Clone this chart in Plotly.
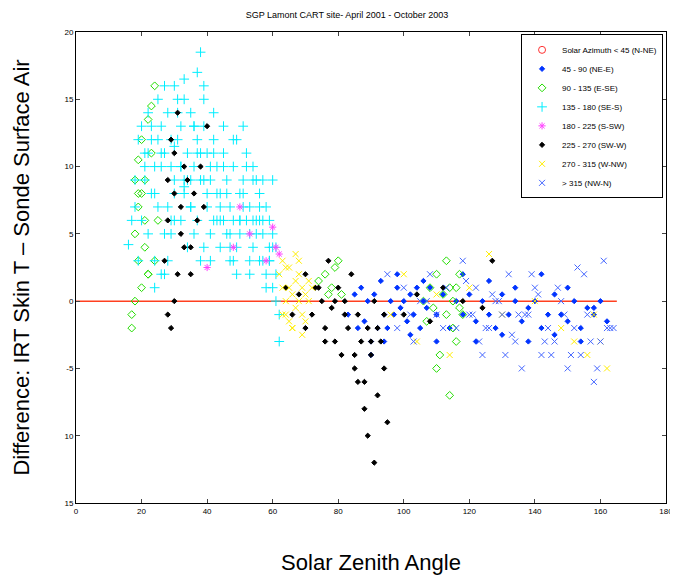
import plotly.graph_objects as go

# (x = solar zenith angle, y = difference)
cyan_x = [16,17,18,19,20,21,22,23,24,25,26,27,28,29,30,31,32,33,34,35,36,37,38,39,40,41,42,43,44,45,46,47,48,49,50,51,52,53,54,55,56,57,58,59,60,61,62,
          20,22,24,26,28,30,32,34,36,38,40,42,44,46,48,50,52,54,56,58,60,
          21,23,25,27,29,31,33,35,37,39,41,43,45,47,49,51,53,55,57,59,61,
          19,22,25,28,31,34,37,40,43,46,49,52,55,58,61,
          24,27,30,33,36,39,42,45,48,51,54,57,60,
          26,29,32,35,38,41,44,47,50,53,56,59,62,37,39,30,33,
          23,26,29,32,35,38,41,44,47,50,53,56,59,
          18,21,24,27,30,33,36,39,42,45,48,51,54,57,60]
cyan_y = [4.2,6,9,12,13,11,14,12,8,15,10,16,14,12,9,15,13,16.5,11,14,10,12,18.5,13,11,9,12,10,8,11,9,7,10,12,8,9,11,7,6,9,8,5,7,6,5,4,-3,
          6,5,3,2,7,8,6,4,5,3,7,6,4,8,3,5,6,4,3,2,1,
          10,8,12,5,10,12,9,7,6,4,5,8,6,3,4,7,2,5,3,4,2,
          3,11,7,3,14,9,11,8,6,5,2,10,6,1,0,
          1,2,16,15,13,15,14,13,12,13,10,9,9,
          13,6,10,9,11,3,6,4,6,3,7,3,-1,17,16,11.5,8.5,
          13,11,5,10,7,9,10,7,5,6,5,6,3,
          7,9,10,11,6,8,13,9,11,10,6,8,9,6,4]
green_x = [17,17,18,18,18,19,19,19,20,20,20,21,21,21,22,22,23,23,24,24,25,19,22,
           74,76,77,78,79,80,81,
           106,107,108,109,110,111,112,113,113,114,115,115,116,116,117,117,110,114,118]
green_y = [-2,-1,0,5,9,10.5,3,7,12,8,1,6,4,9,2,13.5,14.5,11,3,16,6,8,2,
           1.5,2,0.5,1,2.5,3,0.5,
           0,-1.5,1,-0.5,2,-4,0.5,-1,3,1,-2,0,-3,1,-0.5,2,-5,-7,-1]
black_x = [27,28,28,29,29,30,30,31,31,32,32,33,34,35,36,37,38,39,40,28,30,33,35,
           64,66,68,70,72,74,75,76,77,78,79,80,81,82,83,84,85,86,87,88,89,90,91,92,93,94,95,
           70,73,76,79,82,85,88,91,94,86,89,92,90,
           100,104,108,112,118,124,127]
black_y = [3,6,9,-2,12,8,11,2,14,7,5,10,9,4,8,6,10,7,13,-1,0,4,2,
           1,-1,0.5,2,-1,1,0,-2,3,-0.5,-3,1,-4,0,-2,2,-5,-1,-3,-6,-2,-4,0,-7,-3,-1,-9,
           -2,1,-3,0,-1,-4,-8,-12,-5,-6,-10,-2,-3,
           -1,0.5,-1.5,1,0,-0.5,3]
blue_x = [83,85,86,87,88,89,90,91,92,93,94,95,96,97,98,99,100,101,102,103,104,105,106,107,108,110,112,114,116,118,120,122,124,126,128,130,132,134,136,138,140,142,144,146,148,150,152,154,156,158,160,162,
          90,94,98,102,106,110,118,122,126,130,134,138,142,146,150,154,158]
blue_y = [-1,0.5,-2,1,-1.5,0,-3,0.5,-2,1.5,-1,-2,0,-1,1,-0.5,0,-1.5,0.5,-1,1,-2,0,-0.5,1,-1,0.5,-2,0,-1,0.5,-1.5,0,-1,-2,0.5,-1,0,-1.5,-0.5,0,-2,-1,0.5,-1,-1.5,0,-2,-0.5,-1,0,-1.5,
          -4,-3,2,-2.5,1.5,-3,2,-3,1.5,-2.5,1,-3,2,-2.5,1,-3,-0.5]
yellow_x = [62,63,63,64,64,65,65,66,66,67,67,68,68,69,69,70,70,71,72,63,65,67,69,71,64,66,68,
            96,100,104,110,114,120,126,130,140,148,152,156,158,160,162]
yellow_y = [2,-1,1,0,2.5,-1.5,1,0.5,-2,1.5,-0.5,0,2,-1,1,0.5,-1.5,0,1,3,2.5,3.5,-2.5,1.5,-1,-2,3,
            -1,2,-3,0.5,-4,1,3.5,-1,0,-2,-3,-4,-1,-3,-5]
bluex_x = [95,98,100,103,105,108,110,113,116,118,120,122,124,126,128,130,132,134,136,138,140,142,144,146,148,150,152,154,156,158,160,162,164,
           102,107,112,119,123,127,131,135,139,143,147,151,155,159,161,
           121,125,129,133,137,141,145,149,153,157,163]
bluex_y = [2,-2,1,-3,0,2,-1,1,-2,3,-1,1,-4,-2,0,-1,2,-3,-5,-1,1,-4,-2,-3,0,-5,-2,-4,-1,-6,-3,-2,-2,
           -1,0,-2,1.5,-3,0.5,-4,-1,2,-3,1,-4,2,-5,3,
           -1,-2,0,-2.5,-1,0.5,-4,-1,2.5,-3,-2]
mag_x = [40,48,50,53,58,60,61,62]
mag_y = [2.5,4,7,5,3,5.5,4,3.5]

fig = go.Figure()
fig.add_trace(go.Scatter(x=[0, 165], y=[0, 0], mode="lines", line=dict(color="#ff4020", width=1.5), showlegend=False))
series = [
    ("Solar Azimuth < 45 (N-NE)", [], [], "circle-open", "#ff3030", 7),
    ("45 - 90 (NE-E)", blue_x, blue_y, "diamond", "#0033ff", 4),
    ("90 - 135 (E-SE)", green_x, green_y, "diamond-open", "#22dd00", 6),
    ("135 - 180 (SE-S)", cyan_x, cyan_y, "cross-thin-open", "#00eeff", 7),
    ("180 - 225 (S-SW)", mag_x, mag_y, "asterisk-open", "#ff44ff", 6),
    ("225 - 270 (SW-W)", black_x, black_y, "diamond", "#000000", 4),
    ("270 - 315 (W-NW)", yellow_x, yellow_y, "x-thin-open", "#ffee00", 6),
    ("> 315 (NW-N)", bluex_x, bluex_y, "x-thin-open", "#4466ff", 6),
]
for name, xs, ys, sym, col, sz in series:
    fig.add_trace(go.Scatter(x=xs if xs else [None], y=ys if ys else [None], mode="markers", name=name,
                             marker=dict(symbol=sym, color=col, size=sz, line=dict(color=col, width=1))))

fig.update_layout(
    width=678, height=577, paper_bgcolor="white", plot_bgcolor="white",
    margin=dict(l=68, r=20, t=24, b=82, autoexpand=False),
    title=dict(text="SGP Lamont CART site- April 2001 - October 2003", x=0.5, xanchor="center", y=0.993,
               font=dict(family="Arial", size=9, color="black")),
    font=dict(family="Arial", color="black"),
    legend=dict(x=0.995, y=0.995, xanchor="right", yanchor="top", bgcolor="white",
                bordercolor="black", borderwidth=1, font=dict(size=8), tracegroupgap=0),
    xaxis=dict(range=[0, 180], tickvals=list(range(0, 181, 20)), showgrid=False, zeroline=False, automargin=False,
               showline=True, linecolor="black", mirror="ticks", ticks="inside", ticklen=4,
               tickfont=dict(size=8), title=dict(text="Solar Zenith Angle", font=dict(size=22), standoff=40)),
    yaxis=dict(range=[-15, 20], tickvals=list(range(-15, 21, 5)), automargin=False,
               ticktext=["15", "10", "-5", "0", "5", "10", "15", "20"], showgrid=False, zeroline=False,
               showline=True, linecolor="black", mirror="ticks", ticks="inside", ticklen=4,
               tickfont=dict(size=8), title=dict(text="Difference: IRT Skin T – Sonde Surface Air", font=dict(size=22), standoff=28)),
)
fig.write_html("out.html")
